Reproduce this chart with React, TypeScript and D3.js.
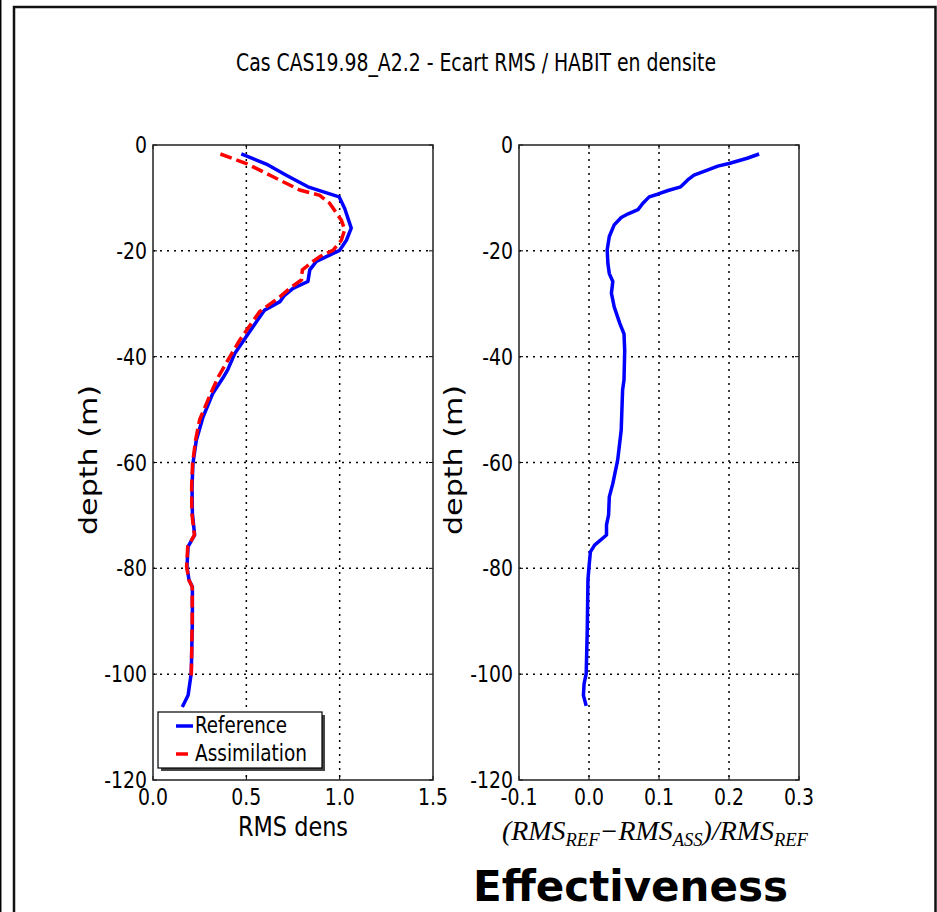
import React from "react";
import * as d3 from "d3";

const refDepth = [-1.7, -3.6, -5.7, -7.9, -9.8, -12, -15.7, -18, -19.9, -20.8, -22, -23.6, -25.8, -27.1, -28.4, -29.6, -31.2, -33.4, -36.2, -39.4, -42.5, -44, -46.9, -51.4, -55.8, -60.2, -64.6, -69.6, -73.7, -75.9, -79.7, -82.2, -83.5, -89.8, -99.8, -104, -106.2];
const refValues = [0.473, 0.607, 0.714, 0.83, 0.997, 1.027, 1.062, 1.036, 1.0, 0.946, 0.875, 0.84, 0.83, 0.75, 0.705, 0.68, 0.598, 0.554, 0.5, 0.438, 0.4, 0.375, 0.321, 0.268, 0.232, 0.214, 0.209, 0.211, 0.223, 0.188, 0.182, 0.193, 0.211, 0.211, 0.205, 0.188, 0.157];

const assDepth = [-1.7, -3.5, -6, -8.5, -9.5, -11, -14.2, -16, -18, -19.9, -21.1, -22, -23.6, -25.5, -27.1, -28.7, -31.5, -33.7, -36.9, -40.6, -43.8, -46.9, -51.9, -55.8, -60.2, -64.6, -69.6, -73.7, -75.9, -79.7, -82.2, -83.5, -89.8, -100.5];
const assValues = [0.361, 0.5, 0.643, 0.786, 0.893, 0.946, 1.009, 1.027, 1.009, 0.964, 0.893, 0.857, 0.8, 0.795, 0.732, 0.68, 0.571, 0.527, 0.464, 0.402, 0.35, 0.31, 0.25, 0.228, 0.212, 0.207, 0.208, 0.222, 0.186, 0.18, 0.192, 0.21, 0.21, 0.205];

const effDepth = [-1.7, -2.5, -3.5, -4, -4.7, -5.7, -6.6, -7.9, -8.6, -9.3, -9.8, -11, -12.2, -13, -13.7, -15.1, -17.3, -19.8, -22.4, -24.3, -25.8, -28, -30.6, -33.7, -35.7, -38.8, -44.4, -46.3, -53.9, -59.5, -64, -66.5, -69.9, -71.8, -73.7, -75.6, -76.9, -79.7, -82.2, -91.7, -99.9, -101.8, -104, -106];
const effValues = [0.243, 0.226, 0.2, 0.184, 0.17, 0.15, 0.141, 0.131, 0.113, 0.098, 0.086, 0.077, 0.07, 0.056, 0.046, 0.036, 0.029, 0.026, 0.027, 0.029, 0.034, 0.032, 0.036, 0.044, 0.05, 0.051, 0.05, 0.048, 0.046, 0.041, 0.034, 0.029, 0.028, 0.025, 0.025, 0.008, 0.002, 0.0, -0.0015, -0.0025, -0.004, -0.007, -0.008, -0.004];

const yTicks = [0, -20, -40, -60, -80, -100, -120];
const xTicksLeft = [0, 0.5, 1.0, 1.5];
const xTicksRight = [-0.1, 0, 0.1, 0.2, 0.3];

const TITLE = "Cas CAS19.98_A2.2 - Ecart RMS / HABIT en densite";

const FONT = "DejaVu Sans";
const SX = 0.82;

function T({ x, y, anchor = "start", size = 23, sx = SX, children, rotate = 0, weight = "normal" }: any) {
  return (
    <text
      transform={`translate(${x},${y}) rotate(${rotate}) scale(${sx},1)`}
      textAnchor={anchor}
      fontFamily={FONT}
      fontSize={size}
      fontWeight={weight}
      fill="#000"
    >
      {children}
    </text>
  );
}

function Axes({ x, y, ticksX, fmt, children }: any) {
  const [x0, x1] = x.range();
  const [y0, y1] = y.range();
  return (
    <g>
      {ticksX.slice(1, -1).map((t: number) => (
        <line key={"gx" + t} x1={x(t)} x2={x(t)} y1={y0} y2={y1} stroke="#000" strokeWidth={1.5} strokeDasharray="2,5" />
      ))}
      {yTicks.slice(1, -1).map((t: number) => (
        <line key={"gy" + t} x1={x0} x2={x1} y1={y(t)} y2={y(t)} stroke="#000" strokeWidth={1.5} strokeDasharray="2,5" />
      ))}
      {children}
      {ticksX.map((t: number) => (
        <g key={"tx" + t}>
          <line x1={x(t)} x2={x(t)} y1={y1} y2={y1 - 4} stroke="#000" strokeWidth={1} />
          <line x1={x(t)} x2={x(t)} y1={y0} y2={y0 + 4} stroke="#000" strokeWidth={1} />
        </g>
      ))}
      {yTicks.map((t: number) => (
        <g key={"ty" + t}>
          <line x1={x0} x2={x0 + 4} y1={y(t)} y2={y(t)} stroke="#000" strokeWidth={1} />
          <line x1={x1} x2={x1 - 4} y1={y(t)} y2={y(t)} stroke="#000" strokeWidth={1} />
        </g>
      ))}
      <rect x={x0} y={y0} width={x1 - x0} height={y1 - y0} fill="none" stroke="#222" strokeWidth={1.5} />
      {yTicks.map((t: number) => (
        <T key={"ly" + t} x={x0 - 6} y={y(t) + 8} anchor="end">{String(t)}</T>
      ))}
      {ticksX.map((t: number) => (
        <T key={"lx" + t} x={x(t)} y={805} anchor="middle">{fmt(t)}</T>
      ))}
    </g>
  );
}

export default function App() {
  const W = 937, H = 912;
  const y = d3.scaleLinear().domain([0, -120]).range([145, 780]);
  const xL = d3.scaleLinear().domain([0, 1.5]).range([153, 433]);
  const xR = d3.scaleLinear().domain([-0.1, 0.3]).range([519, 799]);

  const lineL = d3.line<[number, number]>().x((d) => xL(d[0])).y((d) => y(d[1]));
  const lineR = d3.line<[number, number]>().x((d) => xR(d[0])).y((d) => y(d[1]));

  const refPts = refValues.map((v, i) => [v, refDepth[i]] as [number, number]);
  const assPts = assValues.map((v, i) => [v, assDepth[i]] as [number, number]);
  const effPts = effValues.map((v, i) => [v, effDepth[i]] as [number, number]);

  const fmt1 = (t: number) => t.toFixed(1);

  return (
    <svg width={W} height={H} style={{ position: "absolute", left: 0, top: 0, background: "#fff" }}>
      <rect x={0} y={0} width={W} height={H} fill="#fff" />
      <line x1={0.7} x2={0.7} y1={0} y2={H} stroke="#000" strokeWidth={1.5} />
      <path d={`M14,${H} L14,7 L935.5,7 L935.5,${H}`} fill="none" stroke="#111" strokeWidth={2.5} />

      <text x={476} y={71} textAnchor="middle" fontFamily={FONT} fontSize={24} textLength={480} lengthAdjust="spacingAndGlyphs">
        {TITLE}
      </text>

      <Axes x={xL} y={y} ticksX={xTicksLeft} fmt={fmt1}>
        <path d={lineL(refPts) || ""} fill="none" stroke="#0000ff" strokeWidth={3.5} strokeLinejoin="round" />
        <path d={lineL(assPts) || ""} fill="none" stroke="#ff0000" strokeWidth={3.5} strokeDasharray="12,5" />
      </Axes>
      <Axes x={xR} y={y} ticksX={xTicksRight} fmt={fmt1}>
        <path d={lineR(effPts) || ""} fill="none" stroke="#0000ff" strokeWidth={3.5} strokeLinejoin="round" />
      </Axes>

      {/* legend */}
      <rect x={161} y={715} width={164} height={56} fill="#444" />
      <rect x={158} y={712} width={164} height={56} fill="#fff" stroke="#000" strokeWidth={1.2} />
      <line x1={176} x2={193} y1={726} y2={726} stroke="#0000ff" strokeWidth={3.5} />
      <line x1={176} x2={193} y1={754} y2={754} stroke="#ff0000" strokeWidth={3.5} strokeDasharray="12,5" />
      <text x={195} y={733} fontFamily={FONT} fontSize={23} textLength={92} lengthAdjust="spacingAndGlyphs">Reference</text>
      <text x={195} y={761} fontFamily={FONT} fontSize={23} textLength={112} lengthAdjust="spacingAndGlyphs">Assimilation</text>

      {/* axis labels */}
      <text x={293} y={836} textAnchor="middle" fontFamily={FONT} fontSize={27} textLength={110} lengthAdjust="spacingAndGlyphs">RMS dens</text>
      <text transform="translate(97,460) rotate(-90)" textAnchor="middle" fontFamily={FONT} fontSize={25} textLength={150} lengthAdjust="spacingAndGlyphs">depth (m)</text>
      <text transform="translate(462,460) rotate(-90)" textAnchor="middle" fontFamily={FONT} fontSize={25} textLength={150} lengthAdjust="spacingAndGlyphs">depth (m)</text>

      <text x={502} y={840} fontFamily="Liberation Serif" fontStyle="italic" fontSize={27} textLength={306} lengthAdjust="spacingAndGlyphs">
        (RMS<tspan fontSize={18} dy={6}>REF</tspan><tspan dy={-6}>−RMS</tspan><tspan fontSize={18} dy={6}>ASS</tspan><tspan dy={-6}>)/RMS</tspan><tspan fontSize={18} dy={6}>REF</tspan>
      </text>

      <text x={473} y={901} fontFamily={FONT} fontWeight="bold" fontSize={43} textLength={315} lengthAdjust="spacingAndGlyphs">Effectiveness</text>
    </svg>
  );
}
